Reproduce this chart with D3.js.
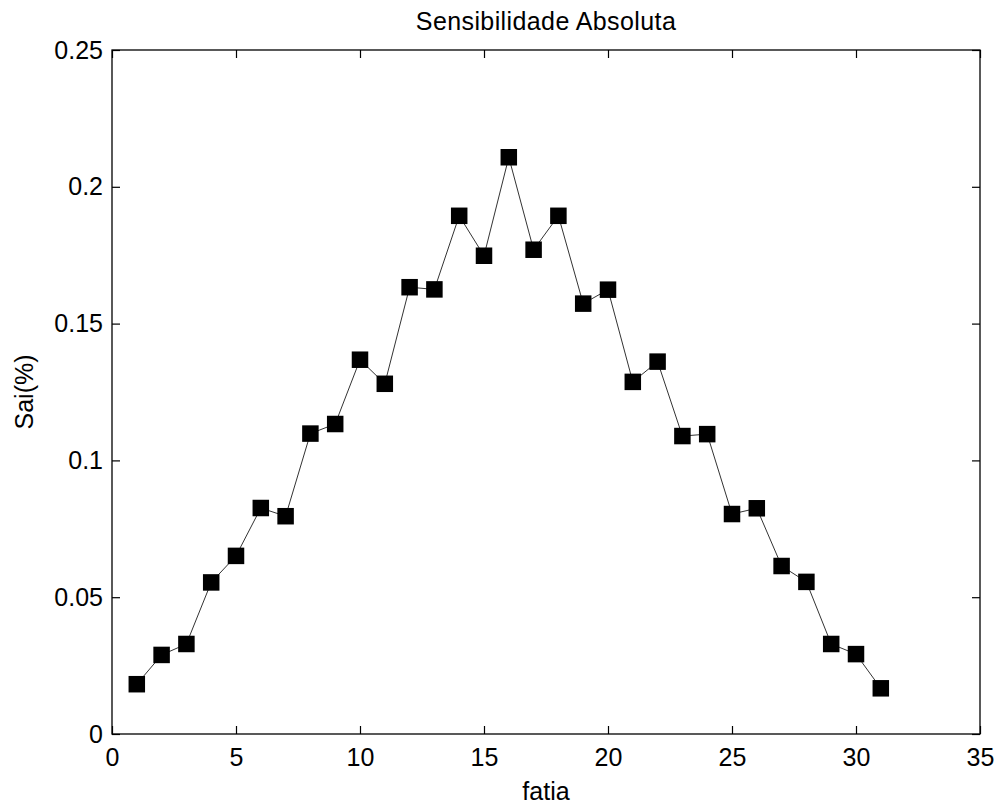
<!DOCTYPE html>
<html>
<head>
<meta charset="utf-8">
<script src="https://cdn.jsdelivr.net/npm/d3@7"></script>
<style>
  html, body { margin: 0; padding: 0; background: #fff; }
  svg { display: block; }
  text { font-family: "Liberation Sans", Arial, sans-serif; fill: #000; }
</style>
</head>
<body>
<svg id="chart" width="997" height="805"></svg>
<script>
// Slice index (fatia) and absolute sensitivity (Sai %)
const fatia = [1,2,3,4,5,6,7,8,9,10,11,12,13,14,15,16,17,18,19,20,21,22,23,24,25,26,27,28,29,30,31];
const sai = [0.0182,0.0289,0.0329,0.0554,0.0651,0.0826,0.0796,0.1098,0.1133,0.1368,0.1280,
             0.1633,0.1625,0.1894,0.1748,0.2108,0.1770,0.1894,0.1573,0.1624,0.1287,0.1361,
             0.1089,0.1096,0.0804,0.0825,0.0614,0.0556,0.0329,0.0292,0.0167];
const xTicks = [0,5,10,15,20,25,30,35];
const yTicks = [0,0.05,0.1,0.15,0.2,0.25];
const yTickLabels = ["0","0.05","0.1","0.15","0.2","0.25"];

const svg = d3.select("#chart");
const plotL = 112, plotR = 980, plotT = 50, plotB = 734;

const x = d3.scaleLinear().domain([0, 35]).range([plotL, plotR]);
const y = d3.scaleLinear().domain([0, 0.25]).range([plotB, plotT]);

const tickLen = 8;
const fontSize = 25;

// Bottom axis with inward ticks
const gx = svg.append("g").attr("transform", `translate(0,${plotB})`)
  .call(d3.axisBottom(x).tickValues(xTicks).tickSize(-tickLen).tickPadding(14)
        .tickFormat(d3.format("d")));
// Top axis ticks (no labels)
const gxt = svg.append("g").attr("transform", `translate(0,${plotT})`)
  .call(d3.axisTop(x).tickValues(xTicks).tickSize(-tickLen).tickFormat(""));
// Left axis with labels
const gy = svg.append("g").attr("transform", `translate(${plotL},0)`)
  .call(d3.axisLeft(y).tickValues(yTicks).tickSize(-tickLen).tickPadding(9)
        .tickFormat((d, i) => yTickLabels[i]));
// Right axis ticks (no labels)
const gyr = svg.append("g").attr("transform", `translate(${plotR},0)`)
  .call(d3.axisRight(y).tickValues(yTicks).tickSize(-tickLen).tickFormat(""));

[gx, gxt, gy, gyr].forEach(g => {
  g.select(".domain").remove();
  g.selectAll(".tick line").attr("stroke", "#000").attr("stroke-width", 1.2);
  g.selectAll(".tick text").attr("font-size", fontSize).attr("fill", "#000")
    .attr("font-family", "Liberation Sans, Arial, sans-serif");
});

// Plot box
svg.append("rect")
  .attr("x", plotL).attr("y", plotT)
  .attr("width", plotR - plotL).attr("height", plotB - plotT)
  .attr("fill", "none").attr("stroke", "#000").attr("stroke-width", 1.3);

// Connecting line
const pts = fatia.map((f, i) => [f, sai[i]]);
svg.append("path")
  .datum(pts)
  .attr("fill", "none")
  .attr("stroke", "#333")
  .attr("stroke-width", 1)
  .attr("d", d3.line().x(d => x(d[0])).y(d => y(d[1])));

// Square markers
const ms = 16.5;
svg.append("g").selectAll("rect")
  .data(pts)
  .join("rect")
  .attr("x", d => x(d[0]) - ms / 2)
  .attr("y", d => y(d[1]) - ms / 2)
  .attr("width", ms).attr("height", ms)
  .attr("fill", "#000");

// Title and axis labels
svg.append("text")
  .attr("x", (plotL + plotR) / 2).attr("y", 30)
  .attr("text-anchor", "middle").attr("font-size", fontSize)
  .attr("letter-spacing", 0.4)
  .text("Sensibilidade Absoluta");

svg.append("text")
  .attr("x", (plotL + plotR) / 2).attr("y", 800)
  .attr("text-anchor", "middle").attr("font-size", fontSize)
  .text("fatia");

svg.append("text")
  .attr("transform", `translate(33,${(plotT + plotB) / 2}) rotate(-90)`)
  .attr("text-anchor", "middle").attr("font-size", fontSize)
  .text("Sai(%)");
</script>
</body>
</html>
